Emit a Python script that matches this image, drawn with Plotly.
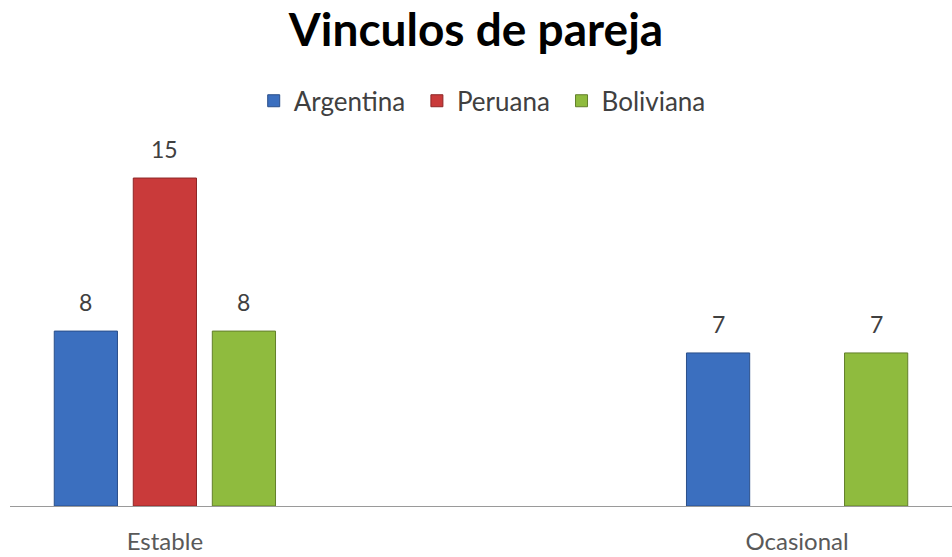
import plotly.graph_objects as go

categories = ["Estable", "Ocasional"]
series_names = ["Argentina", "Peruana", "Boliviana"]
argentina = [8, 7]
peruana = [15, None]
boliviana = [8, 7]
series_values = [argentina, peruana, boliviana]

colors = ["#3b6fbf", "#c93a3a", "#8fbb3e"]
edge_colors = ["#2a4f8a", "#8e2626", "#637f2b"]

FONT = "Lato"
bargap = 0.625
n = len(series_names)
slot = (1 - bargap) / n

fig = go.Figure()
for name, vals, c, ec in zip(series_names, series_values, colors, edge_colors):
    fig.add_trace(go.Bar(
        name=name + " ", x=categories, y=vals,
        marker=dict(color=c, line=dict(color=ec, width=1)),
    ))

annotations = []
for si, vals in enumerate(series_values):
    for ci, v in enumerate(vals):
        if v is None:
            continue
        annotations.append(dict(
            x=ci + (si - (n - 1) / 2) * slot, y=v, xref="x", yref="y",
            text=str(v), showarrow=False, yanchor="bottom", yshift=13,
            font=dict(family=FONT, size=23, color="#404040"),
        ))

fig.update_layout(
    width=952, height=557,
    margin=dict(l=10, r=0, t=140, b=51),
    paper_bgcolor="white", plot_bgcolor="white",
    title=dict(text="<b>Vinculos de pareja</b>", x=0.5, xanchor="center",
               y=1 - 30 / 557, yanchor="middle", yref="container",
               font=dict(family=FONT, size=46, color="#000000")),
    legend=dict(orientation="h", x=0.505, xanchor="center", y=1.107, yanchor="middle",
                font=dict(family=FONT, size=26, color="#404040"),
                itemwidth=30, traceorder="normal"),
    barmode="group", bargap=bargap, bargroupgap=0.2,
    xaxis=dict(range=[-0.245, 1.245], showline=True, linecolor="#9a9a9a", linewidth=1,
               ticks="", showgrid=False, ticklabelstandoff=14, automargin=False,
               tickfont=dict(family=FONT, size=24, color="#595959")),
    yaxis=dict(range=[0, 16.74], visible=False, showgrid=False, zeroline=False,
               automargin=False),
    annotations=annotations,
    showlegend=True,
)

fig.write_html("out.html")
